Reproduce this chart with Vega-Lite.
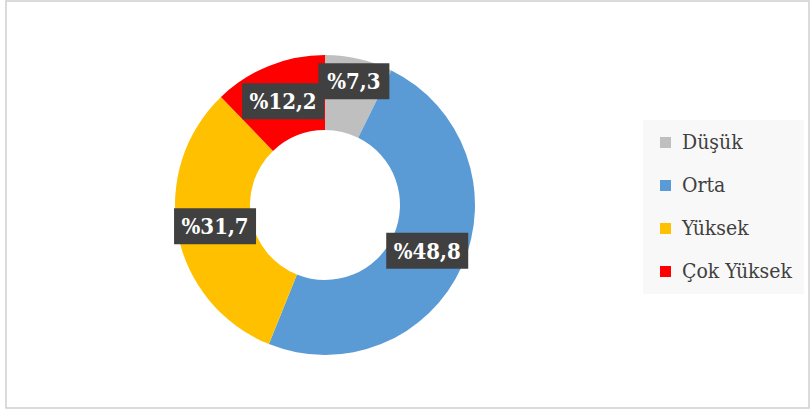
{
  "$schema": "https://vega.github.io/schema/vega-lite/v6.json",
  "width": 803,
  "height": 407,
  "padding": {"left": 6, "top": 1, "right": 1, "bottom": 2},
  "autosize": {"type": "none"},
  "background": "white",
  "config": {
    "view": {"stroke": "#cfcfcf", "strokeWidth": 1.5},
    "font": "DejaVu Serif Condensed"
  },
  "data": {
    "values": [
      {"kategori": "Düşük", "deger": 7.3, "sira": 1},
      {"kategori": "Orta", "deger": 48.8, "sira": 2},
      {"kategori": "Yüksek", "deger": 31.7, "sira": 3},
      {"kategori": "Çok Yüksek", "deger": 12.2, "sira": 4}
    ]
  },
  "transform": [
    {"stack": "deger", "groupby": [], "sort": [{"field": "sira", "order": "ascending"}], "as": ["bas", "son"]},
    {"calculate": "PI * (datum.bas + datum.son) / 100", "as": "aci"},
    {"calculate": "datum.sira === 1 ? 127 : 112", "as": "yr"},
    {"calculate": "datum.yr * sin(datum.aci)", "as": "lx"},
    {"calculate": "datum.yr * cos(datum.aci)", "as": "ly"},
    {"calculate": "'%' + replace(format(datum.deger, '.1f'), '.', ',')", "as": "etiket"}
  ],
  "layer": [
    {
      "mark": {"type": "arc", "outerRadius": 150, "innerRadius": 75, "strokeWidth": 0},
      "encoding": {
        "x": {"datum": 0, "type": "quantitative", "scale": {"domain": [-319, 484], "nice": false, "zero": false}, "axis": null},
        "y": {"datum": 0, "type": "quantitative", "scale": {"domain": [-203, 204], "nice": false, "zero": false}, "axis": null},
        "theta": {"field": "bas", "type": "quantitative", "stack": null, "scale": {"type": "linear", "domain": [0, 100], "range": [0, 6.283185307179586]}},
        "theta2": {"field": "son"},
        "color": {
          "field": "kategori",
          "type": "nominal",
          "sort": ["Düşük", "Orta", "Yüksek", "Çok Yüksek"],
          "scale": {"domain": ["Düşük", "Orta", "Yüksek", "Çok Yüksek"], "range": ["#bfbfbf", "#5b9bd5", "#ffc000", "#ff0000"]},
          "legend": {
            "title": null,
            "orient": "none",
            "legendX": 637,
            "legendY": 119,
            "fillColor": "#f8f8f8",
            "padding": 12,
            "symbolType": "square",
            "symbolSize": 121,
            "symbolStrokeWidth": 0,
            "symbolOpacity": 1,
            "labelFont": "DejaVu Serif Condensed",
            "labelFontSize": 21,
            "labelColor": "#404040",
            "labelOffset": 6,
            "rowPadding": 21,
            "labelLimit": 300
          }
        }
      }
    },
    {
      "mark": {"type": "point", "filled": true, "fill": "#404040", "opacity": 1, "strokeWidth": 0},
      "encoding": {
        "x": {"field": "lx", "type": "quantitative", "scale": {"domain": [-319, 484], "nice": false, "zero": false}, "axis": null},
        "y": {"field": "ly", "type": "quantitative", "scale": {"domain": [-203, 204], "nice": false, "zero": false}, "axis": null},
        "shape": {
          "condition": {"test": "datum.kategori === 'Düşük'", "value": "M-0.866,-0.439H0.866V0.439H-0.866Z"},
          "value": "M-1,-0.439H1V0.439H-1Z"
        },
        "size": {"value": 6724}
      }
    },
    {
      "mark": {"type": "text", "color": "white", "fontWeight": "bold", "fontSize": 22, "font": "DejaVu Serif Condensed", "align": "center", "baseline": "middle", "dy": 1},
      "encoding": {
        "x": {"field": "lx", "type": "quantitative", "scale": {"domain": [-319, 484], "nice": false, "zero": false}, "axis": null},
        "y": {"field": "ly", "type": "quantitative", "scale": {"domain": [-203, 204], "nice": false, "zero": false}, "axis": null},
        "text": {"field": "etiket"}
      }
    }
  ]
}
